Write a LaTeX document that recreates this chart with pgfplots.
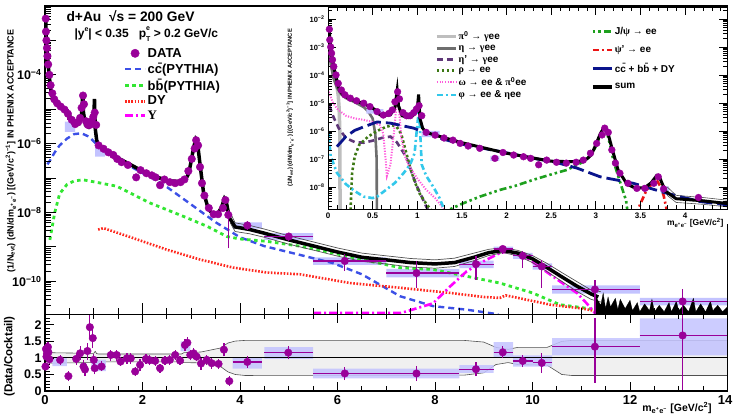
\documentclass[border=0pt]{standalone}
\usepackage{pgfplots}
\pgfplotsset{compat=1.18}
\usepackage{pgfplotstable}
\usepackage{fontspec}
\setmainfont{Liberation Sans}
\newfontfamily\grk{Liberation Serif}
\newcommand{\g}[1]{{\grk #1}}
\newcommand{\tp}[1]{10\textsuperscript{−#1}}
\definecolor{datac}{RGB}{153,0,153}
\definecolor{ccc}{RGB}{60,80,230}
\definecolor{bbc}{RGB}{50,230,50}
\definecolor{dyc}{RGB}{255,40,30}
\definecolor{upsc}{RGB}{255,0,255}
\definecolor{sysc}{RGB}{195,195,255}
\definecolor{pi0c}{RGB}{190,190,190}
\definecolor{etac}{RGB}{110,110,110}
\definecolor{etapc}{RGB}{95,55,120}
\definecolor{rhoc}{RGB}{60,120,20}
\definecolor{omc}{RGB}{255,90,220}
\definecolor{phic}{RGB}{50,200,235}
\definecolor{jpsic}{RGB}{30,160,30}
\definecolor{psipc}{RGB}{235,20,20}
\definecolor{hfc}{RGB}{10,20,140}
\definecolor{bandc}{RGB}{80,80,80}

\pgfplotstableread{
x y
0.015 4.3e-3
0.02 1.8e-3
0.03 1.0e-3
0.04 6.0e-4
0.05 3.5e-4
0.065 2.0e-4
0.09 1.0e-4
0.115 5.0e-5
0.15 2.9e-5
0.19 1.95e-5
0.25 1.48e-5
0.32 1.2e-5
0.40 9.8e-6
0.47 7.4e-6
0.55 4.9e-6
0.62 3.7e-6
0.68 4.2e-6
0.72 5.6e-6
0.75 1.1e-5
0.78 2.5e-5
0.80 1.4e-5
0.84 4.5e-6
0.88 3.5e-6
0.92 3.5e-6
0.96 4.5e-6
0.99 6.0e-6
1.02 8.0e-6
1.05 3.5e-6
1.10 8.9e-7
1.20 7.1e-7
1.30 5.6e-7
1.40 4.7e-7
1.48 3.6e-7
1.57 2.9e-7
1.70 2.4e-7
1.87 1.05e-7
1.96 1.7e-7
2.08 1.38e-7
2.19 1.2e-7
2.27 1.05e-7
2.36 6.2e-8
2.45 9.1e-8
2.56 7.6e-8
2.67 7.1e-8
2.78 7.6e-8
2.86 9.1e-8
2.94 1.6e-7
3.01 3.6e-7
3.07 7.2e-7
3.10 1.26e-6
3.14 8.9e-7
3.18 2.1e-7
3.22 7.1e-8
3.27 3.1e-8
3.36 1.35e-8
3.46 8.9e-9
3.55 8.9e-9
3.65 1.35e-8
3.70 2.3e-8
3.76 8.5e-9
4.15 4.2e-9
}\lowdata

\pgfplotstableread{
x y
5.0 2.0e-9
6.15 3.9e-10
7.62 1.74e-10
8.84 3.16e-10
9.39 8.7e-10
9.80 5.5e-10
10.19 2.7e-10
11.28 5.8e-11
13.08 2.6e-11
}\highdata

\pgfplotstableread{
x y
0.005 5.0e-3
0.015 4.0e-3
0.02 1.8e-3
0.04 5.6e-4
0.07 1.6e-4
0.1 6.3e-5
0.13 2.8e-5
0.17 1.9e-5
0.25 1.38e-5
0.35 1.07e-5
0.45 7.9e-6
0.52 6.0e-6
0.55 4.5e-6
0.6 3.5e-6
0.7 3.8e-6
0.75 7.1e-6
0.775 2.8e-5
0.79 7.9e-6
0.83 3.5e-6
0.9 3.0e-6
0.95 3.5e-6
1.0 5.6e-6
1.015 2.0e-5
1.03 2.8e-6
1.06 1.26e-6
1.1 8.9e-7
1.2 7.1e-7
1.5 3.8e-7
2.0 1.6e-7
2.5 8.3e-8
2.8 7.9e-8
2.9 1.0e-7
2.95 1.4e-7
3.0 3.2e-7
3.05 7.9e-7
3.09 1.3e-6
3.13 1.0e-6
3.18 2.5e-7
3.25 4.0e-8
3.35 1.26e-8
3.45 8.9e-9
3.55 9.5e-9
3.62 1.4e-8
3.68 2.5e-8
3.72 2.0e-8
3.78 7.1e-9
3.9 3.8e-9
4.2 3.2e-9
4.5 2.5e-9
5.0 1.6e-9
5.5 1.07e-9
6.0 7.1e-10
6.5 5.0e-10
7.0 4.2e-10
7.5 3.5e-10
8.0 3.2e-10
8.4 3.5e-10
8.8 5.0e-10
9.1 6.8e-10
9.4 7.9e-10
9.7 6.6e-10
10.0 4.5e-10
10.3 2.5e-10
10.6 1.35e-10
10.9 7.4e-11
11.2 4.3e-11
11.35 3.5e-11
}\sumdata

\pgfplotstableread{
x y
3.8 1.0e-8
3.9 5.0e-9
4.2 4.2e-9
4.5 3.3e-9
5.0 2.1e-9
5.5 1.4e-9
6.0 9.3e-10
6.5 6.6e-10
7.0 5.5e-10
7.5 4.6e-10
8.0 4.2e-10
8.4 4.7e-10
8.8 6.6e-10
9.1 8.5e-10
9.4 9.5e-10
9.7 7.9e-10
10.0 5.6e-10
10.3 3.3e-10
10.6 1.8e-10
10.9 1.0e-10
11.2 5.6e-11
11.4 5.0e-11
}\sumup

\pgfplotstableread{
x y
3.8 5.0e-9
3.9 2.8e-9
4.2 2.4e-9
4.5 1.9e-9
5.0 1.2e-9
5.5 8.1e-10
6.0 5.4e-10
6.5 3.8e-10
7.0 3.2e-10
7.5 2.6e-10
8.0 2.4e-10
8.4 2.7e-10
8.8 4.0e-10
9.1 5.6e-10
9.4 6.8e-10
9.7 5.5e-10
10.0 3.5e-10
10.3 1.9e-10
10.6 1.0e-10
10.9 5.2e-11
11.2 3.0e-11
11.4 2.5e-11
}\sumlo

\pgfplotstableread{
x y
0.01 0.74
0.02 1.27
0.03 1.04
0.04 1.14
0.06 1.33
0.07 1.17
0.09 0.96
0.31 0.94
0.48 0.45
0.64 0.97
0.72 1.14
0.79 0.74
0.82 0.65
0.87 1.21
0.92 1.93
0.98 1.60
1.00 0.94
1.02 0.69
1.16 0.74
1.35 1.09
1.47 1.09
1.55 0.89
1.68 0.99
1.76 0.99
1.85 0.59
1.95 0.79
2.07 0.97
2.15 0.93
2.26 0.91
2.36 0.69
2.46 0.92
2.56 0.94
2.67 1.09
2.77 0.92
2.87 1.39
2.92 1.46
2.98 1.09
3.05 1.14
3.11 1.04
3.20 0.83
3.32 0.94
3.42 0.84
3.56 0.82
3.67 1.25
3.78 0.30
4.15 0.88
4.99 1.16
6.15 0.53
7.62 0.53
8.84 0.66
9.39 1.17
9.80 0.91
10.19 0.85
11.28 1.34
13.08 1.68
}\ratiodata

\begin{document}
\begin{tikzpicture}[x=1pt,y=1pt]
\path[use as bounding box] (0,0) rectangle (733,415);

% ---------------- main upper panel ----------------
\begin{axis}[
  at={(45pt,100.7pt)}, anchor=south west, scale only axis,
  width=682.5pt, height=308.3pt,
  xmin=0, xmax=14, ymode=log, ymin=1.1e-11, ymax=1e-2,
  axis on top,
  axis line style={line width=1.1pt},
  xtick={0,2,4,6,8,10,12,14}, minor xtick={0,0.5,...,14}, xticklabels={},
  xtick pos=bottom, ytick pos=left,
  ytick={1e-10,1e-9,1e-8,1e-7,1e-6,1e-5,1e-4,1e-3,1e-2},
  yticklabels={\tp{10},,\tp{8},,\tp{6},,\tp{4},,},
  minor ytick={2e-11,3e-11,4e-11,5e-11,6e-11,7e-11,8e-11,9e-11,
    2e-10,3e-10,4e-10,5e-10,6e-10,7e-10,8e-10,9e-10,
    2e-9,3e-9,4e-9,5e-9,6e-9,7e-9,8e-9,9e-9,
    2e-8,3e-8,4e-8,5e-8,6e-8,7e-8,8e-8,9e-8,
    2e-7,3e-7,4e-7,5e-7,6e-7,7e-7,8e-7,9e-7,
    2e-6,3e-6,4e-6,5e-6,6e-6,7e-6,8e-6,9e-6,
    2e-5,3e-5,4e-5,5e-5,6e-5,7e-5,8e-5,9e-5,
    2e-4,3e-4,4e-4,5e-4,6e-4,7e-4,8e-4,9e-4,
    2e-3,3e-3,4e-3,5e-3,6e-3,7e-3,8e-3,9e-3},
  major tick length=11pt, minor tick length=6pt,
  every tick/.style={black, line width=0.8pt},
  yticklabel style={font=\bfseries\fontsize{12.5}{13}\selectfont},
  ylabel={(1/N\textsubscript{evt}) (dN/dm\textsubscript{e\textsuperscript{+}e\textsuperscript{−}}) [(GeV/c\textsuperscript{2})\textsuperscript{−1}] IN PHENIX ACCEPTANCE},
  every axis y label/.style={at={(axis description cs:-0.05,0.53)}, rotate=90, anchor=center, font=\bfseries\fontsize{9}{10}\selectfont},
  legend style={at={(axis description cs:0.115,0.868)}, anchor=north west, draw=none, fill=none,
    font=\bfseries\fontsize{13}{14}\selectfont, row sep=1.8pt, inner sep=0pt, nodes={inner sep=1.2pt}},
  legend cell align=left,
  legend image code/.code={\draw[mark repeat=2,mark phase=2] plot coordinates {(0pt,0pt)(10pt,0pt)(20pt,0pt)};},
]
\addlegendimage{only marks, mark=*, mark size=4.2pt, color=datac}
\addlegendentry{DATA}
\addlegendimage{ccc, line width=2.4pt, dash pattern=on 6pt off 4pt}
\addlegendentry{c\={c}(PYTHIA)}
\addlegendimage{bbc, line width=2.8pt, dash pattern=on 3.5pt off 3.5pt}
\addlegendentry{b\={b}(PYTHIA)}
\addlegendimage{dyc, line width=2.6pt, dash pattern=on 1.6pt off 1.6pt}
\addlegendentry{DY}
\addlegendimage{upsc, line width=2.6pt, dash pattern=on 8pt off 3pt on 2pt off 3pt}
\addlegendentry{\g{Υ}}

% systematic boxes
\addplot[fill=sysc, draw=none, forget plot, unbounded coords=jump] coordinates {
(0.41,2.2e-6)(0.62,2.2e-6)(0.62,4.4e-6)(0.41,4.4e-6)(nan,nan)
(1.03,4.2e-7)(1.23,4.2e-7)(1.23,8.1e-7)(1.03,8.1e-7)(nan,nan)
(3.85,3.4e-9)(4.45,3.4e-9)(4.45,5.2e-9)(3.85,5.2e-9)(nan,nan)
(4.5,1.6e-9)(5.5,1.6e-9)(5.5,2.5e-9)(4.5,2.5e-9)(nan,nan)
(5.5,3.0e-10)(7.0,3.0e-10)(7.0,5.0e-10)(5.5,5.0e-10)(nan,nan)
(7.0,1.3e-10)(8.5,1.3e-10)(8.5,2.3e-10)(7.0,2.3e-10)(nan,nan)
(8.5,2.4e-10)(9.2,2.4e-10)(9.2,4.0e-10)(8.5,4.0e-10)(nan,nan)
(9.2,7.4e-10)(9.6,7.4e-10)(9.6,1.02e-9)(9.2,1.02e-9)(nan,nan)
(9.6,4.5e-10)(10.0,4.5e-10)(10.0,6.7e-10)(9.6,6.7e-10)(nan,nan)
(10.0,2.2e-10)(10.4,2.2e-10)(10.4,3.3e-10)(10.0,3.3e-10)(nan,nan)
(10.4,4.4e-11)(12.2,4.4e-11)(12.2,7.6e-11)(10.4,7.6e-11)(nan,nan)
(12.2,2.0e-11)(14.0,2.0e-11)(14.0,3.3e-11)(12.2,3.3e-11)
};

% cocktail components
\addplot[ccc, line width=2.4pt, dash pattern=on 6pt off 4pt, forget plot] coordinates {
(0.05,2.5e-7)(0.1,3.2e-7)(0.2,5.6e-7)(0.3,8.9e-7)(0.45,1.4e-6)(0.6,1.9e-6)(0.75,2.0e-6)(0.9,1.6e-6)(1.1,8.5e-7)(1.5,3.3e-7)(1.8,2.0e-7)(2.0,1.4e-7)(2.2,1.0e-7)(2.5,5.5e-8)(3.0,1.7e-8)(3.5,5.2e-9)(4.0,1.9e-9)(4.5,1.05e-9)(5.2,6.0e-10)(5.9,3.4e-10)(6.5,1.6e-10)(7.28,3.7e-11)(7.96,1.9e-11)(8.65,1.5e-11)(9.3,1.1e-11)
};
\addplot[bbc, line width=2.8pt, dash pattern=on 3.5pt off 3.5pt, forget plot] coordinates {
(0.1,1.6e-9)(0.15,4.0e-9)(0.2,1.0e-8)(0.3,3.5e-8)(0.45,6.5e-8)(0.6,8.3e-8)(0.78,8.9e-8)(1.13,7.2e-8)(1.47,5.8e-8)(2.15,1.9e-8)(2.83,7.8e-9)(3.32,4.0e-9)(3.73,2.0e-9)(4.0,1.7e-9)(4.55,1.45e-9)(5.23,1.05e-9)(5.92,6.6e-10)(6.6,4.0e-10)(7.28,2.5e-10)(7.96,2.2e-10)(8.65,1.4e-10)(9.33,8.9e-11)(10.0,4.6e-11)(10.56,2.1e-11)(11.04,1.7e-11)(11.5,1.35e-11)(12.0,1.1e-11)
};
\addplot[dyc, line width=2.6pt, dash pattern=on 1.6pt off 1.6pt, forget plot] coordinates {
(1.09,3.2e-9)(1.2,3.5e-9)(1.81,1.8e-9)(2.5,8.3e-10)(3.18,4.3e-10)(3.86,2.5e-10)(4.55,1.8e-10)(5.23,1.6e-10)(6.26,8.9e-11)(7.28,6.5e-11)(8.31,4.6e-11)(9.0,3.5e-11)(9.33,3.3e-11)(9.45,3.9e-11)(9.7,3.3e-11)(10.36,2.1e-11)(11.04,1.6e-11)(11.5,1.2e-11)
};
\addplot[upsc, line width=2.6pt, dash pattern=on 8pt off 3pt on 2pt off 3pt, forget plot] coordinates {
(5.5,1.2e-11)(7.3,1.2e-11)(7.6,1.6e-11)(7.96,2.3e-11)(8.31,7.1e-11)(8.65,1.95e-10)(8.99,3.8e-10)(9.33,6.6e-10)(9.5,7.4e-10)(9.88,4.8e-10)(10.22,2.2e-10)(10.56,1.0e-10)(10.91,4.6e-11)(11.11,2.3e-11)(11.3,1.1e-11)
};

% sum band, sum, noisy high-mass region
\addplot[bandc, line width=0.7pt, forget plot] table {\sumup};
\addplot[bandc, line width=0.7pt, forget plot] table {\sumlo};
\addplot[black, line width=3.5pt, forget plot] table {\sumdata};
\addplot[fill=black, draw=black, line width=0.3pt, forget plot] coordinates {
(11.3,1e-11)(11.3,3.5e-11)(11.4,2.0e-11)(11.45,4.5e-11)(11.5,1.6e-11)(11.55,3.5e-11)(11.6,1.8e-11)(11.7,3.2e-11)(11.75,1.5e-11)(11.8,3.0e-11)(11.9,1.6e-11)(12.0,2.8e-11)(12.05,1.4e-11)(12.15,2.4e-11)(12.2,1.3e-11)(12.3,2.2e-11)(12.4,1.4e-11)(12.45,3.0e-11)(12.5,1.3e-11)(12.6,2.0e-11)(12.7,1.3e-11)(12.8,2.4e-11)(12.85,1.3e-11)(12.95,2.6e-11)(13.0,1.4e-11)(13.1,2.0e-11)(13.2,1.3e-11)(13.3,3.2e-11)(13.35,1.3e-11)(13.45,2.2e-11)(13.55,1.3e-11)(13.65,2.6e-11)(13.7,1.4e-11)(13.8,2.0e-11)(13.9,1.3e-11)(14.0,1.8e-11)(14.0,1e-11)
} -- cycle;

% data error bars
\addplot[datac, line width=1.2pt, forget plot, unbounded coords=jump] coordinates {
(0.47,5.0e-6)(0.47,1.0e-5)(nan,nan)
(3.76,9.1e-10)(3.76,1.2e-8)(nan,nan)
(4.15,3.2e-9)(4.15,5.5e-9)(nan,nan)
(5.0,1.5e-9)(5.0,2.6e-9)(nan,nan)
(6.15,2.0e-10)(6.15,6.3e-10)(nan,nan)
(7.62,6.5e-11)(7.62,3.8e-10)(nan,nan)
(8.84,1.1e-10)(8.84,5.4e-10)(nan,nan)
(9.39,6.3e-10)(9.39,1.07e-9)(nan,nan)
(9.80,2.5e-10)(9.80,7.4e-10)(nan,nan)
(10.19,6.5e-11)(10.19,4.3e-10)(nan,nan)
(11.28,1e-11)(11.28,1.12e-10)(nan,nan)
(13.08,1e-11)(13.08,5.8e-11)(nan,nan)
(4.5,2.0e-9)(5.5,2.0e-9)(nan,nan)
(5.5,3.9e-10)(7.0,3.9e-10)(nan,nan)
(7.0,1.74e-10)(8.5,1.74e-10)(nan,nan)
(8.5,3.16e-10)(9.2,3.16e-10)(nan,nan)
(9.2,8.7e-10)(9.6,8.7e-10)(nan,nan)
(9.6,5.5e-10)(10.0,5.5e-10)(nan,nan)
(10.0,2.7e-10)(10.4,2.7e-10)(nan,nan)
(10.4,5.8e-11)(12.2,5.8e-11)(nan,nan)
(12.2,2.6e-11)(14.0,2.6e-11)
};
\addplot[only marks, mark=*, mark size=3.8pt, color=datac, forget plot] table {\lowdata};
\addplot[only marks, mark=*, mark size=3.8pt, color=datac, forget plot] table {\highdata};
\end{axis}

% header texts
\node[anchor=west, font=\bfseries\fontsize{13.8}{14}\selectfont] at (63,399) {d+Au\ \ √s = 200 GeV};
\node[anchor=west, font=\bfseries\fontsize{12}{13}\selectfont] at (71,381) {|y\raisebox{0.5em}{\fontsize{7}{7}\selectfont e}| < 0.35\ \ \ p\rlap{\raisebox{0.58em}{\fontsize{7}{7}\selectfont e}}\raisebox{-0.32em}{\fontsize{7}{7}\selectfont T}\ > 0.2 GeV/c};

% ---------------- ratio panel ----------------
\begin{axis}[
  at={(45pt,24pt)}, anchor=south west, scale only axis,
  width=682.5pt, height=76.7pt,
  xmin=0, xmax=14, ymin=0, ymax=2.32,
  axis on top,
  axis line style={line width=1.1pt},
  xtick={0,2,4,6,8,10,12,14}, xticklabels={0,2,4,6,8,10,12,\hspace*{-5pt}14},
  minor xtick={0,0.5,...,14},
  ytick={0,0.5,1,1.5,2}, yticklabels={0,0.5,1,1.5,2},
  minor ytick={0.1,0.2,0.3,0.4,0.6,0.7,0.8,0.9,1.1,1.2,1.3,1.4,1.6,1.7,1.8,1.9,2.1,2.2},
  xtick pos=both, ytick pos=left,
  major tick length=9pt, minor tick length=5pt,
  every tick/.style={black, line width=0.8pt},
  xticklabel style={font=\bfseries\fontsize{13}{13}\selectfont, yshift=-1pt},
  yticklabel style={font=\bfseries\fontsize{12.5}{13}\selectfont},
  ylabel={(Data/Cocktail)},
  every axis y label/.style={at={(axis description cs:-0.052,0.45)}, rotate=90, anchor=center, font=\bfseries\fontsize{11.5}{12}\selectfont},
  xlabel={m\textsubscript{e\textsuperscript{+}e\textsuperscript{−}} [GeV/c\textsuperscript{2}]},
  every axis x label/.style={at={(axis description cs:0.982,-0.105)}, anchor=north east, font=\bfseries\fontsize{10.5}{11}\selectfont},
]
\addplot[fill=black!6, draw=bandc, line width=0.6pt] coordinates {
(0,1.16)(0.95,1.14)(1.0,1.14)(1.03,1.2)(1.06,1.13)(1.1,1.12)(2.8,1.12)(2.85,1.16)(3.2,1.18)(3.4,1.24)(3.6,1.3)(3.75,1.45)(3.9,1.51)(4.1,1.53)(8.6,1.53)(9.0,1.48)(9.25,1.32)(9.5,1.26)(9.7,1.32)(10.3,1.32)(10.6,1.5)(10.8,1.53)(14,1.53)
(14,0.47)(10.8,0.47)(10.6,0.5)(10.3,0.78)(9.7,0.8)(9.5,0.86)(9.25,0.8)(9.0,0.55)(8.6,0.48)(4.1,0.47)(3.9,0.5)(3.75,0.58)(3.6,0.74)(3.4,0.8)(3.2,0.85)(2.85,0.86)(2.8,0.88)(1.1,0.88)(1.0,0.86)(0,0.84)
} -- cycle;
\addplot[fill=sysc, fill opacity=0.85, draw=none, unbounded coords=jump] coordinates {
(0.0,0.95)(0.1,0.95)(0.1,1.3)(0.0,1.3)(nan,nan)
(0.15,0.75)(0.45,0.75)(0.45,1.0)(0.15,1.0)(nan,nan)
(0.95,0.6)(1.25,0.6)(1.25,0.95)(0.95,0.95)(nan,nan)
(2.78,1.2)(2.98,1.2)(2.98,1.5)(2.78,1.5)(nan,nan)
(3.85,0.68)(4.45,0.68)(4.45,1.02)(3.85,1.02)(nan,nan)
(4.5,0.97)(5.5,0.97)(5.5,1.33)(4.5,1.33)(nan,nan)
(5.5,0.38)(8.5,0.38)(8.5,0.68)(5.5,0.68)(nan,nan)
(8.5,0.55)(9.2,0.55)(9.2,0.78)(8.5,0.78)(nan,nan)
(9.2,1.02)(9.6,1.02)(9.6,1.48)(9.2,1.48)(nan,nan)
(9.6,0.74)(10.4,0.74)(10.4,1.08)(9.6,1.08)(nan,nan)
(10.4,1.08)(12.2,1.08)(12.2,1.6)(10.4,1.6)(nan,nan)
(12.2,1.08)(14.0,1.08)(14.0,2.2)(12.2,2.2)
};
\addplot[black, line width=1.1pt] coordinates {(0,1)(14,1)};
\addplot[datac, line width=1.2pt, unbounded coords=jump] coordinates {
(0.01,0.55)(0.01,0.93)(nan,nan)(0.02,1.05)(0.02,1.45)(nan,nan)(0.03,0.9)(0.03,1.2)(nan,nan)
(0.04,0.98)(0.04,1.3)(nan,nan)(0.06,1.15)(0.06,1.5)(nan,nan)(0.07,1.0)(0.07,1.35)(nan,nan)
(0.09,0.8)(0.09,1.12)(nan,nan)(0.31,0.8)(0.31,1.08)(nan,nan)(0.48,0.3)(0.48,0.6)(nan,nan)
(0.64,0.8)(0.64,1.14)(nan,nan)(0.72,0.95)(0.72,1.35)(nan,nan)(0.79,0.55)(0.79,0.95)(nan,nan)
(0.82,0.45)(0.82,0.85)(nan,nan)(0.87,0.95)(0.87,1.45)(nan,nan)(0.92,1.6)(0.92,2.3)(nan,nan)
(0.98,1.3)(0.98,1.9)(nan,nan)(1.00,0.75)(1.00,1.13)(nan,nan)(1.02,0.5)(1.02,0.88)(nan,nan)
(1.16,0.6)(1.16,0.9)(nan,nan)(1.35,0.92)(1.35,1.25)(nan,nan)(1.47,0.92)(1.47,1.25)(nan,nan)
(1.55,0.75)(1.55,1.03)(nan,nan)(1.68,0.82)(1.68,1.16)(nan,nan)(1.76,0.82)(1.76,1.16)(nan,nan)
(1.85,0.45)(1.85,0.73)(nan,nan)(1.95,0.62)(1.95,0.96)(nan,nan)(2.07,0.82)(2.07,1.12)(nan,nan)
(2.15,0.78)(2.15,1.08)(nan,nan)(2.26,0.76)(2.26,1.06)(nan,nan)(2.36,0.55)(2.36,0.83)(nan,nan)
(2.46,0.78)(2.46,1.06)(nan,nan)(2.56,0.8)(2.56,1.08)(nan,nan)(2.67,0.95)(2.67,1.23)(nan,nan)
(2.77,0.78)(2.77,1.06)(nan,nan)(2.87,1.2)(2.87,1.58)(nan,nan)(2.92,1.3)(2.92,1.62)(nan,nan)
(2.98,0.93)(2.98,1.25)(nan,nan)(3.05,0.98)(3.05,1.3)(nan,nan)(3.11,0.9)(3.11,1.18)(nan,nan)
(3.20,0.65)(3.20,1.0)(nan,nan)(3.32,0.78)(3.32,1.1)(nan,nan)(3.42,0.68)(3.42,1.0)(nan,nan)
(3.56,0.66)(3.56,0.98)(nan,nan)(3.67,1.05)(3.67,1.45)(nan,nan)(3.78,0.15)(3.78,0.45)(nan,nan)
(4.15,0.7)(4.15,1.06)(nan,nan)(4.99,0.96)(4.99,1.36)(nan,nan)(6.15,0.33)(6.15,0.73)(nan,nan)
(7.62,0.3)(7.62,0.76)(nan,nan)(8.84,0.45)(8.84,0.87)(nan,nan)(9.39,1.0)(9.39,1.35)(nan,nan)
(9.80,0.72)(9.80,1.1)(nan,nan)(10.19,0.55)(10.19,1.15)(nan,nan)(11.28,0.25)(11.28,2.2)(nan,nan)
(13.08,0)(13.08,2.32)(nan,nan)
(3.85,0.88)(4.45,0.88)(nan,nan)(4.5,1.16)(5.5,1.16)(nan,nan)(5.5,0.53)(7.0,0.53)(nan,nan)
(7.0,0.53)(8.5,0.53)(nan,nan)(8.5,0.66)(9.2,0.66)(nan,nan)(9.2,1.17)(9.6,1.17)(nan,nan)
(9.6,0.91)(10.0,0.91)(nan,nan)(10.0,0.85)(10.4,0.85)(nan,nan)(10.4,1.34)(12.2,1.34)(nan,nan)
(12.2,1.68)(14.0,1.68)
};
\addplot[only marks, mark=*, mark size=3.8pt, color=datac] table {\ratiodata};
\end{axis}

% ---------------- inset ----------------
\fill[white] (283,191) rectangle (733,408);
\begin{axis}[
  at={(328pt,206pt)}, anchor=south west, scale only axis,
  width=399pt, height=202pt,
  xmin=0, xmax=4.47, ymode=log, ymin=1.63e-9, ymax=2.68e-2,
  axis background/.style={fill=white},
  axis on top,
  axis line style={line width=0.9pt},
  xtick={0,0.5,1,1.5,2,2.5,3,3.5,4}, xticklabels={0,0.5,1,1.5,2,2.5,3,3.5,4},
  minor xtick={0.1,0.2,0.3,0.4,0.6,0.7,0.8,0.9,1.1,1.2,1.3,1.4,1.6,1.7,1.8,1.9,2.1,2.2,2.3,2.4,2.6,2.7,2.8,2.9,3.1,3.2,3.3,3.4,3.6,3.7,3.8,3.9,4.1,4.2,4.3,4.4},
  ytick={1e-8,1e-7,1e-6,1e-5,1e-4,1e-3,1e-2},
  yticklabels={\tp{8},\tp{7},\tp{6},\tp{5},\tp{4},\tp{3},\tp{2}},
  minor ytick={2e-9,3e-9,4e-9,5e-9,6e-9,7e-9,8e-9,9e-9,
    2e-8,3e-8,4e-8,5e-8,6e-8,7e-8,8e-8,9e-8,
    2e-7,3e-7,4e-7,5e-7,6e-7,7e-7,8e-7,9e-7,
    2e-6,3e-6,4e-6,5e-6,6e-6,7e-6,8e-6,9e-6,
    2e-5,3e-5,4e-5,5e-5,6e-5,7e-5,8e-5,9e-5,
    2e-4,3e-4,4e-4,5e-4,6e-4,7e-4,8e-4,9e-4,
    2e-3,3e-3,4e-3,5e-3,6e-3,7e-3,8e-3,9e-3,2e-2},
  major tick length=8pt, minor tick length=4pt,
  every tick/.style={black, line width=0.6pt},
  xticklabel style={font=\bfseries\fontsize{8}{8}\selectfont},
  yticklabel style={font=\bfseries\fontsize{7.5}{8}\selectfont},
  ylabel={(1/N\textsubscript{evt}) (dN/dm\textsubscript{e\textsuperscript{+}e\textsuperscript{−}}) [(GeV/c\textsuperscript{2})\textsuperscript{−1}] IN PHENIX ACCEPTANCE},
  every axis y label/.style={at={(axis description cs:-0.095,0.5)}, rotate=90, anchor=center, font=\bfseries\fontsize{5.8}{6}\selectfont},
  xlabel={m\textsubscript{e\textsuperscript{+}e\textsuperscript{−}} [GeV/c\textsuperscript{2}]},
  every axis x label/.style={at={(axis description cs:1,-0.03)}, anchor=north east, font=\bfseries\fontsize{8.5}{9}\selectfont},
  legend style={at={(axis description cs:0.268,0.885)}, anchor=north west, draw=none, fill=none,
    font=\bfseries\fontsize{10}{11}\selectfont, row sep=1.4pt, inner sep=0pt, nodes={inner sep=1pt}},
  legend cell align=left,
  legend image code/.code={\draw plot coordinates {(0pt,0pt)(19pt,0pt)};},
]
\addlegendimage{pi0c, line width=3.5pt}
\addlegendentry{\g{π}\textsuperscript{0} → \g{γ}ee}
\addlegendimage{etac, line width=2.6pt}
\addlegendentry{\g{η} → \g{γ}ee}
\addlegendimage{etapc, line width=2.6pt, dash pattern=on 6pt off 4pt}
\addlegendentry{\g{η}' → \g{γ}ee}
\addlegendimage{rhoc, line width=2.6pt, dash pattern=on 2.5pt off 2.5pt}
\addlegendentry{\g{ρ} → ee}
\addlegendimage{omc, line width=2pt, dash pattern=on 1.2pt off 1.5pt}
\addlegendentry{\g{ω} → ee \& \g{π}\textsuperscript{0}ee}
\addlegendimage{phic, line width=2.6pt, dash pattern=on 6pt off 3pt on 2pt off 3pt}
\addlegendentry{\g{φ} → ee \& \g{η}ee}

\addplot[pi0c, line width=3.5pt, forget plot] coordinates {
(0.005,5.0e-3)(0.02,1.6e-3)(0.04,5.0e-4)(0.06,2.0e-4)(0.08,8.9e-5)(0.10,4.0e-5)(0.115,1.8e-5)(0.125,6.3e-6)(0.132,1.0e-6)(0.134,3.2e-8)(0.135,1e-9)
};
\addplot[etac, line width=2.6pt, forget plot] coordinates {
(0.01,1e-3)(0.03,2.5e-4)(0.06,7.9e-5)(0.1,3.5e-5)(0.15,2.0e-5)(0.2,1.5e-5)(0.3,1.07e-5)(0.4,7.1e-6)(0.45,5.0e-6)(0.5,2.8e-6)(0.53,7.9e-7)(0.545,1e-7)(0.548,1e-9)
};
\addplot[etapc, line width=2.6pt, dash pattern=on 6pt off 4pt, forget plot] coordinates {
(0.015,7.9e-6)(0.06,3.2e-6)(0.12,1.26e-6)(0.2,5.6e-7)(0.3,4.0e-7)(0.4,3.8e-7)(0.5,4.5e-7)(0.6,5.6e-7)(0.7,6.3e-7)(0.77,4.0e-7)(0.85,1.6e-7)(0.9,7.9e-8)(0.95,2.5e-8)(1.0,1e-8)(1.05,4.5e-9)(1.1,2.0e-9)(1.15,1e-9)
};
\addplot[rhoc, line width=2.6pt, dash pattern=on 2.5pt off 2.5pt, forget plot] coordinates {
(0.25,1e-9)(0.27,3.2e-8)(0.3,1.26e-7)(0.35,3.2e-7)(0.45,6.3e-7)(0.55,1.0e-6)(0.65,1.4e-6)(0.72,1.6e-6)(0.77,1.4e-6)(0.82,7.9e-7)(0.87,2.0e-7)(0.92,5.0e-8)(0.97,1.6e-8)(1.02,6.3e-9)(1.1,2.5e-9)(1.2,1e-9)
};
\addplot[omc, line width=2pt, dash pattern=on 1.2pt off 1.5pt, forget plot] coordinates {
(0.01,2.5e-5)(0.05,1.1e-5)(0.1,6.3e-6)(0.2,3.5e-6)(0.3,2.8e-6)(0.4,2.5e-6)(0.5,2.1e-6)(0.58,1.6e-6)(0.62,7.9e-7)(0.645,1e-7)(0.66,2.5e-8)(0.7,6.3e-8)(0.74,1e-6)(0.77,1e-5)(0.78,2.0e-5)(0.79,1e-5)(0.82,6.3e-7)(0.86,1.26e-7)(0.9,6.3e-8)(1.0,2.0e-8)(1.1,7.9e-9)(1.2,4.0e-9)(1.3,1.6e-9)
};
\addplot[phic, line width=2.6pt, dash pattern=on 6pt off 3pt on 2pt off 3pt, forget plot] coordinates {
(0.005,1e-6)(0.03,1.26e-7)(0.1,3.2e-8)(0.2,1.26e-8)(0.3,7.1e-9)(0.4,4.5e-9)(0.5,4.0e-9)(0.55,4.5e-9)(0.65,7.9e-9)(0.75,1.4e-8)(0.85,3.2e-8)(0.92,6.3e-8)(0.97,1.6e-7)(1.0,1.6e-6)(1.02,6.3e-6)(1.035,6.3e-7)(1.05,6.3e-8)(1.1,2.5e-8)(1.18,1e-8)(1.25,4.0e-9)(1.3,1.6e-9)
};
\addplot[jpsic, line width=2.6pt, dash pattern=on 2.5pt off 3pt on 2.5pt off 3pt on 7pt off 3pt, forget plot] coordinates {
(1.37,1.6e-9)(1.5,2.5e-9)(1.7,4.5e-9)(1.93,7.9e-9)(2.1,1.1e-8)(2.3,1.8e-8)(2.5,2.8e-8)(2.68,4.1e-8)(2.86,7.9e-8)(2.95,1.4e-7)(3.0,2.8e-7)(3.05,7.1e-7)(3.09,1.2e-6)(3.12,1.0e-6)(3.16,3.2e-7)(3.2,7.9e-8)(3.25,2.5e-8)(3.3,7.9e-9)(3.34,3.2e-9)(3.36,1e-9)
};
\addplot[psipc, line width=2.6pt, dash pattern=on 6pt off 3pt on 2pt off 3pt, forget plot] coordinates {
(3.45,1e-9)(3.5,2.5e-9)(3.57,7.9e-9)(3.64,1.4e-8)(3.68,1.8e-8)(3.72,1.1e-8)(3.76,5.0e-9)(3.8,1.26e-9)
};
\addplot[hfc, line width=2.8pt, dash pattern=on 14pt off 5pt, forget plot] coordinates {
(0.1,2.75e-7)(0.2,6.3e-7)(0.3,1.05e-6)(0.4,1.4e-6)(0.55,2.1e-6)(0.7,1.9e-6)(0.85,1.5e-6)(0.96,1.26e-6)(1.1,8.3e-7)(1.3,5.0e-7)(1.5,3.4e-7)(1.8,2.2e-7)(2.0,1.66e-7)(2.3,1.05e-7)(2.53,7.9e-8)(2.79,4.7e-8)(3.05,2.3e-8)(3.42,1.35e-8)(3.80,5.9e-9)(4.17,3.0e-9)(4.47,2.3e-9)
};
\addplot[fill=sysc, draw=none, forget plot, unbounded coords=jump] coordinates {
(0.43,4.2e-6)(0.62,4.2e-6)(0.62,6.0e-6)(0.43,6.0e-6)(nan,nan)
(1.05,6.0e-7)(1.25,6.0e-7)(1.25,1.0e-6)(1.05,1.0e-6)(nan,nan)
(1.82,8.5e-8)(1.92,8.5e-8)(1.92,1.3e-7)(1.82,1.3e-7)(nan,nan)
(3.72,6.5e-9)(3.82,6.5e-9)(3.82,1.05e-8)(3.72,1.05e-8)
};
\addplot[bandc, line width=0.6pt, forget plot] table {\sumup};
\addplot[bandc, line width=0.6pt, forget plot] table {\sumlo};
\addplot[black, line width=3pt, forget plot] table {\sumdata};
\addplot[datac, line width=1pt, forget plot, unbounded coords=jump] coordinates {
(1.87,8.5e-8)(1.87,1.3e-7)(nan,nan)(2.36,5.0e-8)(2.36,7.6e-8)(nan,nan)(3.76,6.0e-9)(3.76,1.2e-8)
};
\addplot[only marks, mark=*, mark size=3.4pt, color=datac, forget plot] table {\lowdata};
\end{axis}

% second legend column of the inset
\begin{axis}[
  at={(328pt,206pt)}, anchor=south west, scale only axis,
  width=399pt, height=202pt, hide axis,
  xmin=0, xmax=1, ymin=0, ymax=1,
  legend style={at={(axis description cs:0.658,0.905)}, anchor=north west, draw=none, fill=none,
    font=\bfseries\fontsize{10}{11}\selectfont, row sep=7.6pt, inner sep=0pt, nodes={inner sep=1pt}},
  legend cell align=left,
  legend image code/.code={\draw plot coordinates {(0pt,0pt)(19pt,0pt)};},
]
\addlegendimage{jpsic, line width=2.6pt, dash pattern=on 2.5pt off 3pt on 2.5pt off 3pt on 7pt off 3pt}
\addlegendentry{J/\g{ψ} → ee}
\addlegendimage{psipc, line width=2.6pt, dash pattern=on 6pt off 3pt on 2pt off 3pt}
\addlegendentry{\g{ψ}' → ee}
\addlegendimage{hfc, line width=2.8pt}
\addlegendentry{c\={c} + b\={b} + DY}
\addlegendimage{black, line width=4pt}
\addlegendentry{sum}
\end{axis}
\end{tikzpicture}
\end{document}
